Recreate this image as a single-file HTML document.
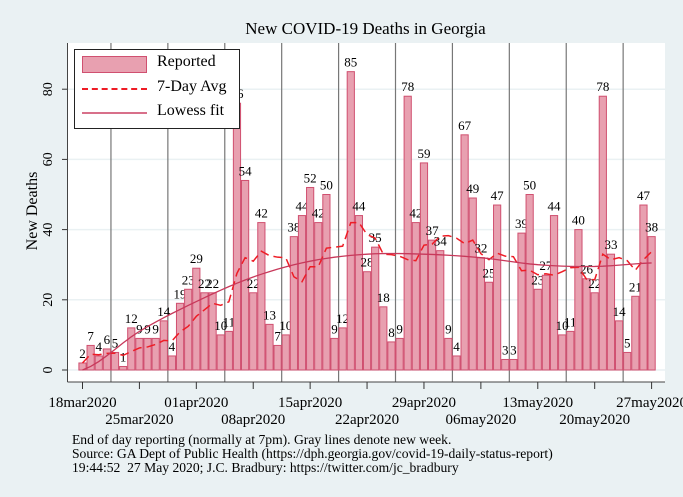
<!DOCTYPE html>
<html><head><meta charset="utf-8"><style>
body{margin:0;background:#eaf1f3;}
svg{display:block;font-family:"Liberation Serif",serif;}
</style></head><body>
<svg id="c" width="683" height="497"></svg>
<script>
const dates=["18mar2020","25mar2020","01apr2020","08apr2020","15apr2020","22apr2020","29apr2020","06may2020","13may2020","20may2020","27may2020"];
const deaths=[2,7,4,6,5,1,12,9,9,9,14,4,19,23,29,22,22,10,11,76,54,22,42,13,7,10,38,44,52,42,50,9,12,85,44,28,35,18,8,9,78,42,59,37,34,9,4,67,49,32,25,47,3,3,39,50,23,27,44,10,11,40,26,22,78,33,14,5,21,47,38];
const lowessDays=[0,7,14,21,28,35,42,49,56,63,70];
const lowessVals=[0,11,19.5,26.5,31,33,33,32,30,29.5,30.5];
const yTicks=[0,20,40,60,80];
const NS="http://www.w3.org/2000/svg";
const svg=document.getElementById('c');
function mk(t,a,p){const e=document.createElementNS(NS,t);for(const k in a)e.setAttribute(k,a[k]);(p||svg).appendChild(e);return e;}
const X=d=>82.5+d*8.13, Y=v=>370-v*3.51;
mk('rect',{x:68,y:43,width:597,height:339,fill:'#fff'});
const g=mk('g',{});

yTicks.forEach(v=>{mk('line',{x1:68,x2:665,y1:Y(v),y2:Y(v),stroke:'#eaf1f3','stroke-width':1.5},g);
 mk('line',{x1:62,x2:68,y1:Y(v),y2:Y(v),stroke:'#333'});
 const t=mk('text',{x:48,y:Y(v),'font-size':14,'text-anchor':'middle',transform:`rotate(-90 48 ${Y(v)}) translate(0 4)`});t.textContent=v;
 });
for(let k=0;k<10;k++){const x=X(3.5+7*k);const l=mk('line',{x1:x,x2:x,y1:43,y2:382,stroke:'#777','stroke-width':1.2});
 }
deaths.forEach((v,i)=>{const b=mk('rect',{x:X(i)-3.6,y:Y(v),width:7.2,height:Y(0)-Y(v),fill:'#e8a0b0',stroke:'#d05070','stroke-width':1});
 
 const t=mk('text',{x:X(i),y:Y(v)-5,'font-size':13,'text-anchor':'middle'});t.textContent=v;
 });
let avg=deaths.map((v,i)=>{const s=deaths.slice(Math.max(0,i-6),i+1);return s.reduce((a,b)=>a+b,0)/s.length;});
const ap=mk('polyline',{points:avg.map((v,i)=>X(i)+','+Y(v)).join(' '),fill:'none',stroke:'#ee1c25','stroke-width':1.5,'stroke-dasharray':'9 5'});

let lp=[];for(let d=0;d<=70;d++){let j=Math.min(Math.floor(d/7),9);let f=(d-lowessDays[j])/7;
 let a=lowessVals[Math.max(j-1,0)],b=lowessVals[j],c=lowessVals[j+1],e=lowessVals[Math.min(j+2,10)];
 let v=b+0.5*f*(c-a+f*(2*a-5*b+4*c-e+f*(3*(b-c)+e-a)));lp.push(X(d)+','+Y(v));}
const lw=mk('polyline',{points:lp.join(' '),fill:'none',stroke:'#c8385a','stroke-width':1.3});

mk('line',{x1:67.5,x2:67.5,y1:43,y2:382,stroke:'#444'});
mk('line',{x1:67.5,x2:665,y1:382,y2:382,stroke:'#444'});
dates.forEach((d,k)=>{const x=X(7*k);mk('line',{x1:x,x2:x,y1:382,y2:389,stroke:'#333'});
 const t=mk('text',{x:x,y:k%2?424:407,'font-size':15,'text-anchor':'middle'});t.textContent=d;
 });
</script>
<div style="position:absolute;left:0;top:0;width:683px;height:497px;font-family:'Liberation Serif',serif;pointer-events:none">
<div style="position:absolute;top:19px;width:683px;left:24px;text-align:center;font-size:17px">New COVID-19 Deaths in Georgia</div>
<div style="position:absolute;left:-12px;top:202px;width:90px;text-align:center;font-size:16px;transform:rotate(-90deg)">New Deaths</div>
<div style="position:absolute;left:74px;top:49px;width:164px;height:78px;border:1px solid #222;background:#fff;font-size:16px">
 <div style="position:absolute;left:7px;top:6px;width:63px;height:15px;background:#e8a0b0;border:1px solid #d05070"></div>
 <div style="position:absolute;left:82px;top:3px">Reported</div>
 <div style="position:absolute;left:7px;top:38px;width:65px;border-top:2px dashed #ee1c25"></div>
 <div style="position:absolute;left:82px;top:28px">7-Day Avg</div>
 <div style="position:absolute;left:7px;top:62px;width:65px;height:2px;background:#d8708a"></div>
 <div style="position:absolute;left:82px;top:52px">Lowess fit</div>
</div>
<div style="position:absolute;left:72px;top:433px;font-size:13.6px;line-height:14px">End of day reporting (normally at 7pm). Gray lines denote new week.<br>Source: GA Dept of Public Health (https://dph.georgia.gov/covid-19-daily-status-report)<br>19:44:52&nbsp; 27 May 2020; J.C. Bradbury: https://twitter.com/jc_bradbury</div>
</div>
</body></html>
